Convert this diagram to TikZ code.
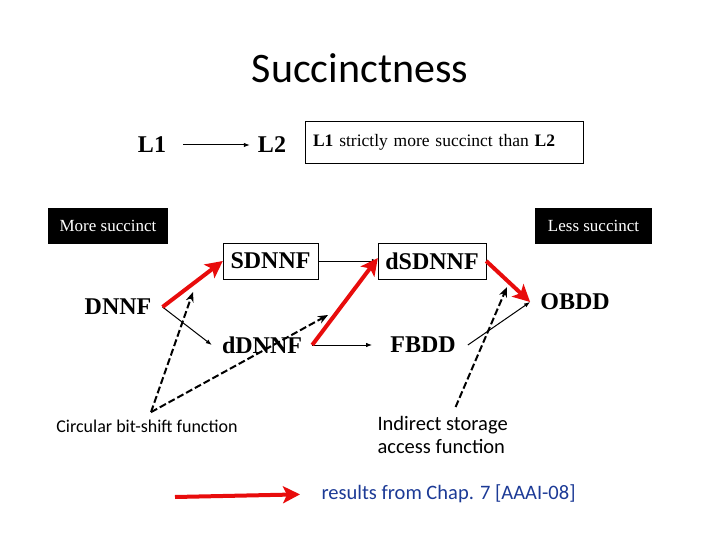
\documentclass[tikz,border=0pt]{standalone}
\usepackage{fontspec}
\setmainfont{Liberation Serif}
\newfontfamily\calfont{Carlito}
\usetikzlibrary{arrows.meta}

\definecolor{resred}{RGB}{232,12,12}
\definecolor{chapblue}{RGB}{28,58,150}

\tikzset{
  lang/.style={font=\fontsize{24}{27}\selectfont\bfseries, inner sep=2pt},
  langbox/.style={lang, draw, thin, minimum height=36pt},
  tag/.style={fill=black, text=white, font=\fontsize{17}{19}\selectfont, minimum height=36pt},
  note/.style={font=\calfont\fontsize{18}{21}\selectfont},
  plain/.style={-{Latex[length=6pt,width=4.5pt]}, line width=1pt},
  result/.style={-{Stealth[length=17pt,width=17pt,inset=4pt]}, resred, line width=4pt},
  hint/.style={-{Stealth[length=10pt,width=8pt]}, line width=2pt, dash pattern=on 7pt off 3pt}
}

\begin{document}
\begin{tikzpicture}[x=1pt,y=-1pt]
\useasboundingbox (0,0) rectangle (720,540);

% Titre
\node[font=\calfont\fontsize{42}{48}\selectfont] (titre) at (360,68) {Succinctness};

% Legende L1 -> L2
\node[lang] (l1) at (152,145) {L1};
\node[lang] (l2) at (272,145) {L2};
\draw[plain, shorten <=15pt, shorten >=6pt] (l1) -- (l2);
\node[draw, thin, text width=262pt, inner xsep=8pt, minimum height=42pt, align=left,
  font=\fontsize{17.5}{20}\selectfont] (defn) at (444,142)
  {\textbf{L1} strictly more succinct than \textbf{L2}};

% Plus / moins succinct
\node[tag, minimum width=120pt] (more) at (108,226) {More succinct};
\node[tag, minimum width=117pt] (less) at (593.5,226) {Less succinct};

% Langages
\node[langbox, minimum width=95pt] (sdnnf) at (270.5,261) {SDNNF};
\node[langbox, minimum width=108pt] (dsdnnf) at (432,261) {dSDNNF};
\node[lang, inner xsep=11pt] (dnnf) at (118,307) {DNNF};
\node[lang, inner xsep=10pt] (ddnnf) at (262,345) {dDNNF};
\node[lang, inner xsep=12pt] (fbdd) at (423,345) {FBDD};
\node[lang, inner xsep=10pt] (obdd) at (575,302) {OBDD};

% Fleches noires
\draw[plain] (sdnnf) -- (dsdnnf);
\draw[plain] (dnnf.east) -- (ddnnf.west);
\draw[plain, shorten >=6pt] (ddnnf.east) -- (fbdd.west);
\draw[plain] (fbdd.east) -- (obdd.west);

% Resultats (rouge)
\draw[result] (dnnf.east) -- (sdnnf.west);
\draw[result] (ddnnf.east) -- ([yshift=3pt]dsdnnf.west);
\draw[result] (dsdnnf.east) -- (obdd.west);

% Fonctions
\node[note] (circ) at (147,426) {Circular bit-shift function};
\node[note, font=\calfont\fontsize{20.5}{23}\selectfont, align=left, anchor=north west] (indir) at (374,413)
  {Indirect storage\\access function};
\coordinate (c1) at (193,292);
\coordinate (c2) at (328,315);
\coordinate (c3) at (507,287);
\draw[hint] ([xshift=4pt,yshift=4pt]circ.north) -- (c1);
\draw[hint] ([xshift=4pt,yshift=4pt]circ.north) -- (c2);
\draw[hint] ([xshift=13pt,yshift=6pt]indir.north) -- (c3);

% Legende du bas
\coordinate (leg) at (175,497);
\node[font=\calfont\fontsize{20.5}{24}\selectfont, text=chapblue, anchor=west] (res) at (318,494)
  {results from Chap. 7 [AAAI-08]};
\draw[result, shorten >=18pt] (leg) -- (res.west);
\end{tikzpicture}
\end{document}
